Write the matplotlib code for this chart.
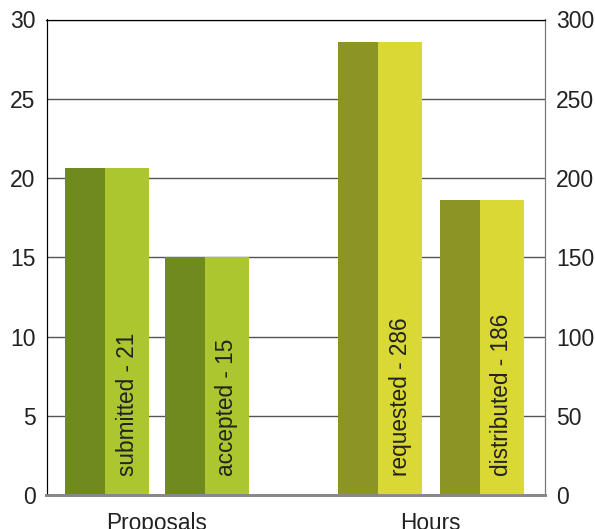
import matplotlib.pyplot as plt

plt.rcParams['font.family'] = ['Liberation Sans', 'DejaVu Sans']

# data
groups = ["Proposals", "Hours"]
prop_names = ["submitted", "accepted"]
prop_values = [20.6, 15.0]
prop_labels = ["21", "15"]
hour_names = ["requested", "distributed"]
hour_values = [286, 186]
hour_labels = ["286", "186"]

# colours (dark left half, light right half)
prop_dark, prop_light = "#6f8a1f", "#abc62f"
hour_dark, hour_light = "#8d9426", "#d9d835"

pos_prop = [0.0, 1.0]
pos_hour = [2.73, 3.745]
w_dark, w_light = 0.40, 0.44

fig = plt.figure(figsize=(5.95, 5.29), dpi=100)
ax = fig.add_axes([46.5 / 595, 1 - 495 / 529, 498.5 / 595, 475.5 / 529])
ax2 = ax.twinx()

ax.set_ylim(0, 30)
ax2.set_ylim(0, 300)
ax.set_yticks(range(0, 31, 5))
ax2.set_yticks(range(0, 301, 50))
ax.set_xlim(-0.605, 4.38)

ax.grid(axis='y', color='#555555', linewidth=1.0)
ax.set_axisbelow(True)


def draw(axis, pos, vals, names, labels, dark, light, yoff):
    for x, v, n, l in zip(pos, vals, names, labels):
        left = x - (w_dark + w_light) / 2
        axis.bar(left, v, width=w_dark, align='edge', color=dark, zorder=3)
        axis.bar(left + w_dark, v, width=w_light, align='edge', color=light, zorder=3)
        axis.text(left + w_dark + w_light / 2, yoff, f"{n} - {l}",
                  rotation=90, ha='center', va='bottom', fontsize=16.3,
                  color='#222222', zorder=4)


draw(ax, pos_prop, prop_values, prop_names, prop_labels, prop_dark, prop_light, 1.2)
draw(ax2, pos_hour, hour_values, hour_names, hour_labels, hour_dark, hour_light, 12.0)

ax.set_xticks([sum(pos_prop) / 2, sum(pos_hour) / 2])
ax.set_xticklabels(groups, fontsize=16.3, color='#222222')
ax.tick_params(axis='x', length=0, pad=12)
ax.tick_params(axis='y', length=0, labelsize=16.5, labelcolor='#222222', pad=8)
ax2.tick_params(axis='y', length=0, labelsize=16.5, labelcolor='#222222', pad=8)

for a in (ax, ax2):
    a.spines['left'].set_color('black')
    a.spines['top'].set_color('black')
    a.spines['right'].set_color('#777777')
    a.spines['bottom'].set_color('#888888')
    a.spines['bottom'].set_linewidth(2)
    a.spines['bottom'].set_zorder(5)

fig.savefig("out.png", dpi=100)
